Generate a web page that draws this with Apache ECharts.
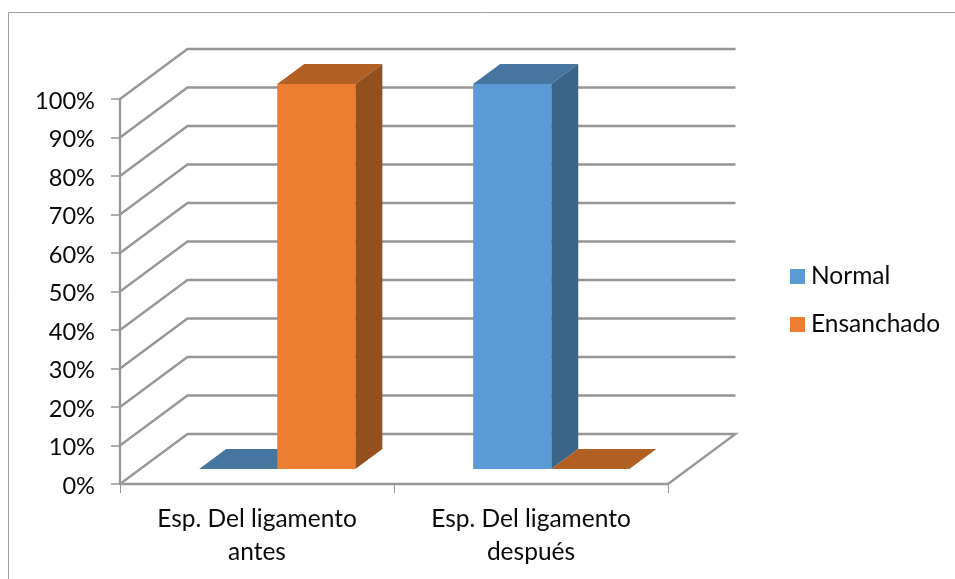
<!DOCTYPE html>
<html>
<head>
<meta charset="utf-8">
<style>html,body{margin:0;padding:0;background:#fff}#chart{width:955px;height:579px}</style>
<script src="https://cdn.jsdelivr.net/npm/echarts@6/dist/echarts.min.js"></script>
</head>
<body>
<div id="chart"></div>
<script>
// Anchura del ligamento: proporción de casos antes y después
const categories = ['Esp. Del ligamento\nantes', 'Esp. Del ligamento\ndespués'];
const normal = [0, 1];
const ensanchado = [1, 0];
const yTicks = [0, 0.1, 0.2, 0.3, 0.4, 0.5, 0.6, 0.7, 0.8, 0.9, 1];

const FONT = 'Lato, Carlito, sans-serif';
const TEXT_COLOR = '#0a0a0a';
const GRID_COLOR = '#979797';
// Oblique projection of the floor depth, in pixels
const DEPTH_X = 67.5, DEPTH_Y = -50;
// Bars sit between these fractions of the floor depth
const Z_FRONT = 0.3, Z_BACK = 0.7;
const BAR_FRACTION = 0.285;

function shift(p, z) { return [p[0] + DEPTH_X * z, p[1] + DEPTH_Y * z]; }

function poly(points, fill) {
  return { type: 'polygon', shape: { points }, style: { fill, stroke: null } };
}

// Side wall, back wall and floor outline for one value of the scale
function wallItem(params, api) {
  const value = api.value(0);
  const left = api.coord([0, value]);
  const band = api.size([1, 0])[0];
  const front = [left[0] - band / 2, left[1]];
  const back = shift(front, 1);
  const right = [back[0] + band * categories.length, back[1]];
  const points = value === 0 ? [front, back, right, [right[0] - DEPTH_X, right[1] - DEPTH_Y]] : [front, back, right];
  return {
    type: 'polyline',
    shape: { points },
    style: { stroke: GRID_COLOR, lineWidth: 2.3, fill: null }
  };
}

// Box with front, side and top faces; a zero value leaves only the flat top
function barRenderer(seriesOffset, colors) {
  return function (params, api) {
    const cat = api.value(0);
    const val = api.value(1);
    const band = api.size([1, 0])[0];
    const width = band * BAR_FRACTION;
    const base = api.coord([cat, 0]);
    const top = api.coord([cat, val]);
    const x0 = base[0] + seriesOffset * width;
    const x1 = x0 + width;
    const fbl = shift([x0, base[1]], Z_FRONT);
    const fbr = shift([x1, base[1]], Z_FRONT);
    const ftl = shift([x0, top[1]], Z_FRONT);
    const ftr = shift([x1, top[1]], Z_FRONT);
    const btl = shift([x0, top[1]], Z_BACK);
    const btr = shift([x1, top[1]], Z_BACK);
    const bbr = shift([x1, base[1]], Z_BACK);
    const children = [poly([ftl, ftr, btr, btl], colors.top)];
    if (val > 0) {
      children.push(poly([fbr, bbr, btr, ftr], colors.side));
      children.push(poly([fbl, fbr, ftr, ftl], colors.front));
    }
    return { type: 'group', children };
  };
}

const BLUE = { front: '#5B9BD5', top: '#4675A0', side: '#3A6488' };
const ORANGE = { front: '#ED7D31', top: '#B25F24', side: '#94501C' };

const chart = echarts.init(document.getElementById('chart'), null, { renderer: 'canvas' });
chart.setOption({
  animation: false,
  backgroundColor: '#ffffff',
  grid: { left: 120, right: 287, top: 99, bottom: 95, containLabel: false },
  graphic: [
    { type: 'polyline', silent: true, shape: { points: [[8.5, 579], [8.5, 12.5], [955, 12.5]] },
      style: { stroke: '#a0a0a0', lineWidth: 1, fill: null } }
  ],
  legend: {
    orient: 'vertical', left: 785, top: 259, itemWidth: 15, itemHeight: 15, itemGap: 23,
    icon: 'rect',
    textStyle: { fontFamily: FONT, fontSize: 24.5, color: TEXT_COLOR, padding: [0, 0, 0, 1], lineHeight: 25 },
    data: ['Normal', 'Ensanchado']
  },
  xAxis: {
    type: 'category', data: categories,
    axisLine: { show: true, onZero: false, lineStyle: { color: GRID_COLOR, width: 2.3 } },
    axisTick: { show: true, alignWithLabel: false, length: 9, lineStyle: { color: GRID_COLOR, width: 1 } },
    axisLabel: { fontFamily: FONT, fontSize: 24.5, color: TEXT_COLOR, lineHeight: 33, margin: 19, interval: 0 },
    splitLine: { show: false }
  },
  yAxis: {
    type: 'value', position: 'left', min: 0, max: 1, interval: 0.1,
    axisLine: { show: true, onZero: false, lineStyle: { color: GRID_COLOR, width: 2.3 } },
    axisTick: { show: true, inside: false, length: 9, lineStyle: { color: GRID_COLOR, width: 1.5 } },
    axisLabel: { fontFamily: FONT, fontSize: 23.6, color: TEXT_COLOR, margin: 25, lineHeight: 4, verticalAlign: 'top',
      formatter: v => Math.round(v * 100) + '%' },
    splitLine: { show: false }
  },
  series: [
    { type: 'custom', name: 'Pared', silent: true, z: 1, renderItem: wallItem,
      encode: { y: 0 }, data: yTicks.map(v => [v]) },
    { type: 'custom', name: 'Normal', z: 2, itemStyle: { color: BLUE.front },
      renderItem: barRenderer(-1, BLUE), encode: { x: 0, y: 1 },
      data: normal.map((v, i) => [i, v]) },
    { type: 'custom', name: 'Ensanchado', z: 3, itemStyle: { color: ORANGE.front },
      renderItem: barRenderer(0, ORANGE), encode: { x: 0, y: 1 },
      data: ensanchado.map((v, i) => [i, v]) }
  ]
});
</script>
</body>
</html>
